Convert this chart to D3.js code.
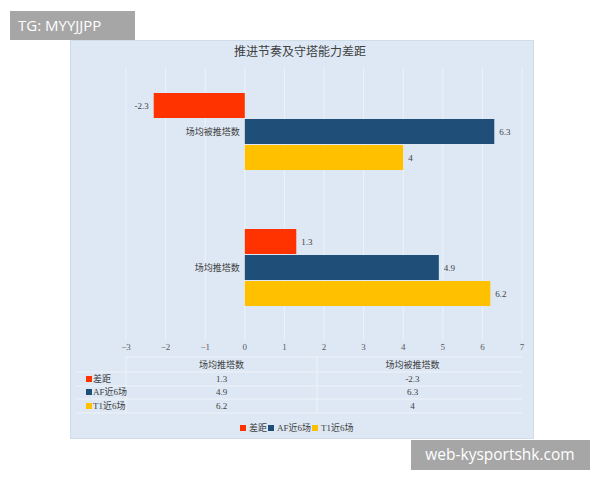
<!DOCTYPE html>
<html>
<head>
<meta charset="utf-8">
<script src="https://cdn.jsdelivr.net/npm/d3@7"></script>
<style>
  body { margin: 0; background: #fff; }
  svg { display: block; }
</style>
</head>
<body>
<div id="chart"></div>
<script>
// ------------------------------------------------------
// Data
const categories = ['场均推塔数', '场均被推塔数']
const seriesNames = ['差距', 'AF近6场', 'T1近6场']
const diffValues = [1.3, -2.3]
const afValues = [4.9, 6.3]
const t1Values = [6.2, 4]
const xTicks = [-3, -2, -1, 0, 1, 2, 3, 4, 5, 6, 7]

const colors = ['#ff3300', '#1f4e79', '#ffc000']
const seriesValues = [diffValues, afValues, t1Values]

// ------------------------------------------------------
// Size
const width = 600
const height = 480
const font = '"Liberation Serif", "Noto Sans CJK SC", serif'

const svg = d3.select('#chart')
  .append('svg')
  .attr('width', width)
  .attr('height', height)

// chart panel
svg.append('rect')
  .attr('x', 70.5).attr('y', 40.5)
  .attr('width', 463).attr('height', 398)
  .attr('fill', '#dde8f4')
  .attr('stroke', '#cfdcea')

// title
svg.append('text')
  .attr('x', 300).attr('y', 56)
  .attr('text-anchor', 'middle')
  .attr('font-family', font)
  .attr('font-size', 12)
  .attr('fill', '#404040')
  .text('推进节奏及守塔能力差距')

// ------------------------------------------------------
// Scales
const x = d3.scaleLinear()
  .domain([-3, 7])
  .range([126, 522])

// top band is the last category (Excel style)
const y = d3.scaleBand()
  .domain(categories.slice().reverse())
  .range([64, 336])

const inner = d3.scaleBand()
  .domain(d3.range(seriesNames.length))
  .range([0, 78])

// gridlines
svg.append('g')
  .selectAll('line')
  .data(xTicks)
  .join('line')
  .attr('x1', d => x(d)).attr('x2', d => x(d))
  .attr('y1', 68).attr('y2', 340)
  .attr('stroke', '#eef3f9')
  .attr('stroke-width', 1)

// bars
const groups = svg.append('g')
  .selectAll('g')
  .data(categories)
  .join('g')
  .attr('transform', d => `translate(0, ${y(d) + (y.bandwidth() - 78) / 2})`)

groups.each(function (cat, ci) {
  const g = d3.select(this)
  seriesValues.forEach((vals, si) => {
    const v = vals[ci]
    g.append('rect')
      .attr('x', x(Math.min(0, v)))
      .attr('y', inner(si))
      .attr('width', Math.abs(x(v) - x(0)))
      .attr('height', inner.bandwidth() - 1)
      .attr('fill', colors[si])
    g.append('text')
      .attr('x', v < 0 ? x(v) - 5 : x(v) + 5)
      .attr('y', inner(si) + inner.bandwidth() / 2)
      .attr('dy', '0.35em')
      .attr('text-anchor', v < 0 ? 'end' : 'start')
      .attr('font-family', font)
      .attr('font-size', 9)
      .attr('fill', '#404040')
      .text(v)
  })
  // category label
  g.append('text')
    .attr('x', x(0) - 5)
    .attr('y', 39)
    .attr('dy', '0.35em')
    .attr('text-anchor', 'end')
    .attr('font-family', font)
    .attr('font-size', 9)
    .attr('fill', '#404040')
    .text(cat)
})

// x axis tick labels
svg.append('g')
  .selectAll('text')
  .data(xTicks)
  .join('text')
  .attr('x', d => x(d))
  .attr('y', 350)
  .attr('text-anchor', 'middle')
  .attr('font-family', font)
  .attr('font-size', 9)
  .attr('fill', '#595959')
  .text(d => d < 0 ? '\u2212' + Math.abs(d) : d)

// ------------------------------------------------------
// Data table
const colX = d3.scaleBand()
  .domain(categories)
  .range([126, 508])

const rowY = [365, 379, 392, 406]
const lineY = [357, 372, 386, 399, 413]
const lineColor = '#eef3f9'

svg.append('g')
  .selectAll('line')
  .data(lineY)
  .join('line')
  .attr('x1', (d, i) => i === 0 ? 126 : 76).attr('x2', 522)
  .attr('y1', d => d).attr('y2', d => d)
  .attr('stroke', lineColor)

svg.append('line')
  .attr('x1', colX(categories[1])).attr('x2', colX(categories[1]))
  .attr('y1', 357).attr('y2', 413)
  .attr('stroke', lineColor)

svg.append('line')
  .attr('x1', 126).attr('x2', 126)
  .attr('y1', 357).attr('y2', 413)
  .attr('stroke', lineColor)

// header
svg.append('g')
  .selectAll('text')
  .data(categories)
  .join('text')
  .attr('x', d => colX(d) + colX.bandwidth() / 2)
  .attr('y', rowY[0])
  .attr('dy', '0.35em')
  .attr('text-anchor', 'middle')
  .attr('font-family', font)
  .attr('font-size', 9)
  .attr('fill', '#404040')
  .text(d => d)

// rows
seriesNames.forEach((name, si) => {
  const ry = rowY[si + 1]
  svg.append('rect')
    .attr('x', 86).attr('y', ry - 3)
    .attr('width', 6).attr('height', 6)
    .attr('fill', colors[si])
  svg.append('text')
    .attr('x', 93).attr('y', ry)
    .attr('dy', '0.35em')
    .attr('font-family', font)
    .attr('font-size', 9)
    .attr('fill', '#404040')
    .text(name)
  categories.forEach((cat, ci) => {
    svg.append('text')
      .attr('x', colX(cat) + colX.bandwidth() / 2)
      .attr('y', ry)
      .attr('dy', '0.35em')
      .attr('text-anchor', 'middle')
      .attr('font-family', font)
      .attr('font-size', 9)
      .attr('fill', '#404040')
      .text(seriesValues[si][ci])
  })
})

// ------------------------------------------------------
// Legend
const legendX = [240, 268, 312]
const legend = svg.append('g')
  .selectAll('g')
  .data(seriesNames)
  .join('g')
  .attr('transform', (d, i) => `translate(${legendX[i]}, 428)`)

legend.append('rect')
  .attr('x', 0).attr('y', -3)
  .attr('width', 6).attr('height', 6)
  .attr('fill', (d, i) => colors[i])

legend.append('text')
  .attr('x', 9).attr('y', 0)
  .attr('dy', '0.35em')
  .attr('font-family', font)
  .attr('font-size', 9)
  .attr('fill', '#404040')
  .text(d => d)

// ------------------------------------------------------
// Watermarks
svg.append('rect')
  .attr('x', 10).attr('y', 11)
  .attr('width', 125).attr('height', 29)
  .attr('fill', '#a6a6a6')
svg.append('text')
  .attr('x', 18).attr('y', 26)
  .attr('dy', '0.35em')
  .attr('font-family', '"Open Sans", Roboto, sans-serif')
  .attr('font-size', 15)
  .attr('fill', '#fff')
  .text('TG: MYYJJPP')

svg.append('rect')
  .attr('x', 411).attr('y', 440)
  .attr('width', 179).attr('height', 30)
  .attr('fill', '#a6a6a6')
svg.append('text')
  .attr('x', 500).attr('y', 455)
  .attr('dy', '0.35em')
  .attr('text-anchor', 'middle')
  .attr('font-family', '"Open Sans", Roboto, sans-serif')
  .attr('font-size', 15.5)
  .attr('fill', '#fff')
  .text('web-kysportshk.com')
</script>
</body>
</html>
